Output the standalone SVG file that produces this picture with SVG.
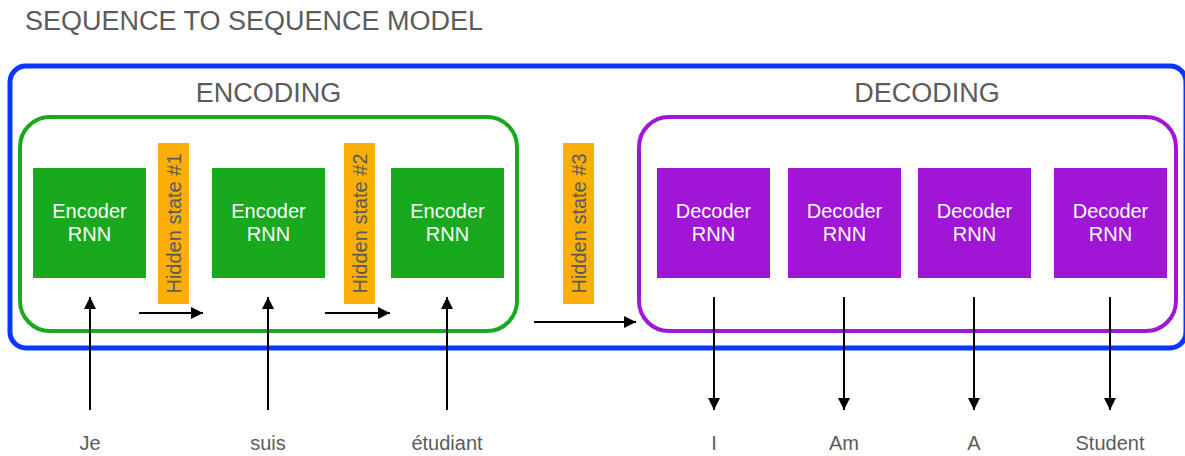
<svg xmlns="http://www.w3.org/2000/svg" width="1185" height="456" viewBox="0 0 1185 456">
<defs>
<marker id="ah" viewBox="0 0 10 10" refX="10" refY="5" markerWidth="6" markerHeight="6" orient="auto" markerUnits="strokeWidth">
<path d="M0,0 L10,5 L0,10 z" fill="#000"/>
</marker>
<style>
.t{font-family:"Liberation Sans",Arial,Helvetica,sans-serif;fill:#5b5b5b}
.big{font-size:27px}
.lbl{font-size:20px;text-anchor:middle}
.enc{fill:#19a91e}
.dec{fill:#a015d6}
.bt{font-family:"Liberation Sans",Arial,Helvetica,sans-serif;font-size:20px;fill:#fff;text-anchor:middle}
.hs{fill:#fbae06}
.hst{font-family:"Liberation Sans",Arial,Helvetica,sans-serif;font-size:20px;fill:#5b5b5b;text-anchor:middle;dominant-baseline:central}
.c{stroke:#000;stroke-width:2;fill:none;marker-end:url(#ah)}
</style>
</defs>
<rect width="1185" height="456" fill="#fff"/>
<text id="title" class="t big" x="25" y="30">SEQUENCE TO SEQUENCE MODEL</text>
<g id="model">
<rect x="10" y="66" width="1176" height="282" rx="16" fill="none" stroke="#0a36ff" stroke-width="5"/>
</g>
<g id="encoding">
<rect x="20" y="117" width="497" height="214" rx="30" fill="none" stroke="#19a91e" stroke-width="4"/>
<text class="t big" x="268.5" y="102" text-anchor="middle">ENCODING</text>
</g>
<g id="decoding">
<rect x="639" y="117" width="537" height="214" rx="30" fill="none" stroke="#a015d6" stroke-width="4"/>
<text class="t big" x="927" y="102" text-anchor="middle">DECODING</text>
</g>
<g id="enc1"><rect class="enc" x="33" y="168" width="113" height="110"/><text class="bt" x="89.5" y="218">Encoder</text><text class="bt" x="89.5" y="241">RNN</text></g>
<g id="enc2"><rect class="enc" x="212" y="168" width="113" height="110"/><text class="bt" x="268.5" y="218">Encoder</text><text class="bt" x="268.5" y="241">RNN</text></g>
<g id="enc3"><rect class="enc" x="391" y="168" width="113" height="110"/><text class="bt" x="447.5" y="218">Encoder</text><text class="bt" x="447.5" y="241">RNN</text></g>
<g id="hs1"><rect class="hs" x="158" y="143" width="31" height="161"/><text class="hst" transform="translate(173.5,223.5) rotate(-90)">Hidden state #1</text></g>
<g id="hs2"><rect class="hs" x="344" y="143" width="31" height="161"/><text class="hst" transform="translate(359.5,223.5) rotate(-90)">Hidden state #2</text></g>
<g id="hs3"><rect class="hs" x="563" y="143" width="31" height="161"/><text class="hst" transform="translate(578.5,223.5) rotate(-90)">Hidden state #3</text></g>
<g id="dec1"><rect class="dec" x="657" y="168" width="113" height="110"/><text class="bt" x="713.5" y="218">Decoder</text><text class="bt" x="713.5" y="241">RNN</text></g>
<g id="dec2"><rect class="dec" x="788" y="168" width="113" height="110"/><text class="bt" x="844.5" y="218">Decoder</text><text class="bt" x="844.5" y="241">RNN</text></g>
<g id="dec3"><rect class="dec" x="918" y="168" width="113" height="110"/><text class="bt" x="974.5" y="218">Decoder</text><text class="bt" x="974.5" y="241">RNN</text></g>
<g id="dec4"><rect class="dec" x="1054" y="168" width="113" height="110"/><text class="bt" x="1110.5" y="218">Decoder</text><text class="bt" x="1110.5" y="241">RNN</text></g>
<g id="connectors">
<line class="c" x1="90" y1="410" x2="90" y2="297"/>
<line class="c" x1="268" y1="410" x2="268" y2="297"/>
<line class="c" x1="447" y1="410" x2="447" y2="297"/>
<line class="c" x1="139" y1="313" x2="203" y2="313"/>
<line class="c" x1="325" y1="313" x2="390" y2="313"/>
<line class="c" x1="534" y1="322" x2="636" y2="322"/>
<line class="c" x1="714" y1="297" x2="714" y2="410"/>
<line class="c" x1="844" y1="297" x2="844" y2="410"/>
<line class="c" x1="974" y1="297" x2="974" y2="410"/>
<line class="c" x1="1110" y1="297" x2="1110" y2="410"/>
</g>
<g id="words">
<text class="t lbl" x="90" y="450">Je</text>
<text class="t lbl" x="268" y="450">suis</text>
<text class="t lbl" x="447" y="450">étudiant</text>
<text class="t lbl" x="714" y="450">I</text>
<text class="t lbl" x="844" y="450">Am</text>
<text class="t lbl" x="974" y="450">A</text>
<text class="t lbl" x="1110" y="450">Student</text>
</g>
</svg>
